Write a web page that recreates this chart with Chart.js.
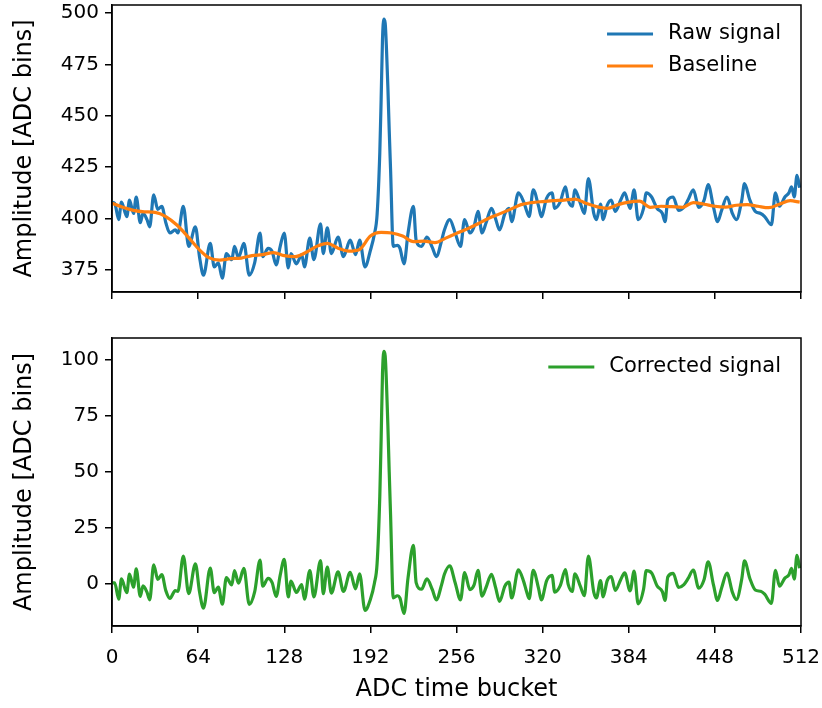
<!DOCTYPE html>
<html>
<head>
<meta charset="utf-8">
<script src="https://cdn.jsdelivr.net/npm/chart.js@4.4.0/dist/chart.umd.min.js"></script>
<style>
  html, body { margin: 0; padding: 0; background: #fff; }
  #wrap { position: relative; width: 822px; height: 708px; }
  canvas { position: absolute; left: 0; }
  #topChart { top: 0; }
  #bottomChart { top: 310px; }
</style>
</head>
<body>
<div id="wrap">
  <canvas id="topChart" width="822" height="310"></canvas>
  <canvas id="bottomChart" width="822" height="398"></canvas>
</div>
<script>
// buckets del raw / corrected
const rawBuckets = [
  0, 2, 5, 7, 11, 13, 16, 18, 21, 23,
  26, 28, 31, 34, 37, 40, 43, 47, 49, 53,
  57, 62, 65, 68, 73, 76, 79, 82, 85, 89,
  91, 94, 98, 102, 106, 110, 112, 116, 119, 122,
  125, 128, 131, 133, 137, 141, 143, 147, 150, 155,
  157, 160, 163, 168, 172, 177, 181, 184, 188, 192,
  195, 197, 199, 200, 201, 202, 203, 204, 205, 206,
  207, 209, 212, 214,
  217, 220, 224, 226, 230, 234, 238, 241, 245, 247,
  251, 255, 259, 262, 266, 269, 272, 275, 278, 282,
  285, 288, 292, 295, 297, 302, 306, 308, 310, 313,
  317, 319, 323, 327, 329, 333, 337, 339, 342, 344,
  348, 351, 354, 358, 360, 363, 365, 368, 371, 374,
  378, 381, 385, 388, 391, 395, 397, 401, 405, 409,
  411, 413, 417, 421, 425, 428, 432, 436, 440, 443,
  447, 450, 453, 457, 461, 464, 468, 470, 474, 478,
  482, 485, 490, 493, 496, 500, 503, 505, 507, 509,
  511
];
const rawValues = [
  408, 407.5, 399.5, 408, 401, 409, 402.5, 410.5, 398, 402.5,
  399.5, 396, 411.5, 404.5, 406, 398, 393, 394.5, 393, 406,
  386.5, 396, 381.5, 372.5, 388, 376.5, 378.5, 371, 383, 380,
  386.5, 381, 388, 372.5, 378.5, 393, 381.5, 385.5, 384, 377.5,
  386.5, 393, 376, 383, 378, 382.5, 376.5, 390.5, 380, 397.5,
  383, 395.5, 383, 391, 381.5, 389.5, 382.5, 389.5, 376.5, 384.5,
  392.5, 402, 432, 458, 487, 497, 495, 482, 464, 443,
  424, 386.5, 387, 385.5,
  378, 393, 406, 389.5, 386.5, 391, 386, 381.5, 389.5, 394.5,
  399.5, 393, 386.5, 399.5, 393, 396, 403.5, 393, 398, 405,
  400, 394.5, 402.5, 405, 398.5, 412.5, 408, 404, 401, 414,
  406, 401, 410, 412.5, 405, 408, 415.5, 409, 406, 414,
  407.5, 402.5, 419.5, 402.5, 399.5, 407, 399.5, 406.5, 409, 403.5,
  409, 412.5, 405, 414, 399.5, 405, 412.5, 410.5, 405, 402.5,
  398.5, 409, 410.5, 404, 405.5, 409, 414, 405.5, 409, 416.5,
  405.5, 398.5, 404, 410.5, 402.5, 399.5, 409, 417, 409, 403.5,
  402.5, 401, 397, 412.5, 406, 410.5, 412.5, 415.5, 410.5, 421,
  415
];
const correctedValues = [
  0.5, 0.5, -6.8, 2.2, -3.9, 4.4, -1.5, 6.7, -5.6, -0.9,
  -3.7, -7.1, 8.5, 2, 4.2, -3, -6.5, -3, -3.3, 12.4,
  -4.3, 9, -3.4, -10.8, 7.1, -3.9, -1.4, -9, 2.8, -0.5,
  5.9, 0.3, 6.9, -9.2, -3.6, 10.6, -1, 2.5, 0.6, -5.6,
  3.9, 11, -5.8, 1.3, -3.8, -0.3, -6.8, 5.9, -5.8, 10.4,
  -4.4, 7.5, -4.1, 5.4, -3.4, 5.2, -2.2, 4.5, -11.8, -7,
  0.3, 9.2, 39.1, 64.7, 93.7, 103.8, 101.8, 88.8, 70.9, 50,
  31, -6.3, -5.3, -6.4,
  -13.2, 2.8, 17.2, 0.6, -2.4, 2.2, -2.5, -7.1, -0.2, 4.3,
  8.1, 0.5, -7.1, 5, -2.6, -0.6, 6, -5.5, -1.5, 4.3,
  -1.5, -7.8, -0.9, 0.8, -6.3, 6.3, 0.9, -3.3, -6.6, 6.1,
  -2.1, -7.2, 1.5, 3.8, -3.7, -0.9, 6.4, -0.2, -3.4, 4.5,
  -1, -5.3, 12.4, -3.7, -6.3, 1.5, -5.8, 1.5, 3.3, -2.9,
  1.9, 4.9, -3.1, 5.7, -8.9, -2.4, 5.9, 4.9, -0.8, -3.5,
  -7.4, 3.1, 4.7, -1.6, -0.3, 2.3, 6.2, -1.9, 2, 9.9,
  -0.6, -7.4, -1.8, 4.8, -3.7, -7, 2.3, 10.3, 2.4, -2.7,
  -3.3, -4.6, -8.7, 6.1, -1, 2.6, 4, 6.9, 2.1, 12.8,
  7
];
const baselineBuckets = [
  0, 8, 16, 24, 32, 40, 48, 56, 64, 72,
  80, 88, 96, 104, 112, 120, 128, 136, 144, 152,
  160, 168, 176, 184, 192, 200, 208, 216, 224, 232,
  240, 248, 256, 264, 272, 280, 288, 296, 304, 312,
  320, 328, 336, 344, 352, 360, 368, 376, 384, 392,
  400, 408, 416, 424, 432, 440, 448, 456, 464, 472,
  480, 488, 496, 504, 511
];
const baselineValues = [
  407.5, 405.5, 404, 403.3, 403, 401, 397, 391.5, 385.5, 381,
  379.8, 380.5, 380.8, 382, 382.5, 383.5, 382, 381.5, 383.5, 386.5,
  388, 385.6, 384.2, 385, 391.5, 393.3, 393, 391.5, 388.8, 389,
  388.3, 390.5, 392.8, 395, 397.5, 400.2, 402.3, 404.5, 406.8, 407.8,
  408.3, 408.7, 409, 409.5, 407.5, 405.8, 405, 406.8, 408, 408.5,
  405.5, 406, 405.8, 405.5, 407.8, 407, 406, 405.6, 406.5, 406.8,
  406, 405.3, 407, 408.7, 408
];

const xTicks = [0, 64, 128, 192, 256, 320, 384, 448, 512];
const topTicks = [375, 400, 425, 450, 475, 500];
const bottomTicks = [0, 25, 50, 75, 100];
const topRange = [364.3, 503.9];
const bottomRange = [-18.8, 109.8];

const FONT = '"DejaVu Sans", sans-serif';
const TICK_FS = 20;
const LEGEND_FS = 21;
const TITLE_FS = 24;
Chart.defaults.font.family = FONT;
Chart.defaults.font.size = TICK_FS;
Chart.defaults.color = '#000';

const toPoints = (xs, ys) => xs.map((x, i) => ({ x: x, y: ys[i] }));

// marco negro completo alrededor del area
const framePlugin = {
  id: 'frame',
  afterDraw(chart) {
    const { ctx, chartArea: a } = chart;
    ctx.save();
    ctx.strokeStyle = '#000';
    ctx.lineWidth = 1.5;
    ctx.strokeRect(a.left, a.top, a.right - a.left, a.bottom - a.top);
    ctx.restore();
  }
};

// leyenda dentro del grafico, arriba a la derecha
const legendPlugin = {
  id: 'insideLegend',
  afterDraw(chart) {
    const { ctx, chartArea: a } = chart;
    const sets = chart.data.datasets;
    ctx.save();
    ctx.font = LEGEND_FS + 'px ' + FONT;
    const textW = Math.max(...sets.map(d => ctx.measureText(d.label).width));
    const textX = a.right - 20 - textW;
    sets.forEach((d, i) => {
      const y = a.top + 29 + i * 32;
      ctx.strokeStyle = d.borderColor;
      ctx.lineWidth = 3.2;
      ctx.beginPath();
      ctx.moveTo(textX - 61, y);
      ctx.lineTo(textX - 15, y);
      ctx.stroke();
      ctx.fillStyle = '#000';
      ctx.textAlign = 'left';
      ctx.textBaseline = 'middle';
      ctx.fillText(d.label, textX, y);
    });
    ctx.restore();
  }
};

function makeChart(id, datasets, yTicks, yRange, showX, padTop, xHeight) {
  const tickGrid = { drawOnChartArea: false, drawTicks: true, tickLength: 7, color: '#000', lineWidth: 1.5 };
  const border = { display: true, color: '#000', width: 1.5 };
  return new Chart(document.getElementById(id), {
    type: 'line',
    data: { datasets: datasets },
    options: {
      responsive: false,
      animation: false,
      devicePixelRatio: 1,
      layout: { padding: { top: padTop, right: 21, left: 0, bottom: 0 } },
      plugins: { legend: { display: false }, tooltip: { enabled: false } },
      elements: {
        point: { radius: 0 },
        line: { borderWidth: 3.2, cubicInterpolationMode: 'monotone' }
      },
      scales: {
        x: {
          type: 'linear',
          min: 0,
          max: 512,
          afterBuildTicks: s => { s.ticks = xTicks.map(v => ({ value: v })); },
          afterFit: s => { s.height = xHeight; s.paddingLeft = 0; s.paddingRight = 0; },
          grid: tickGrid,
          border: border,
          ticks: { display: showX, autoSkip: false, maxRotation: 0, padding: 13 },
          title: {
            display: showX, text: 'ADC time bucket',
            font: { size: TITLE_FS }, padding: { top: 0, bottom: 3.6 }
          }
        },
        y: {
          type: 'linear',
          min: yRange[0],
          max: yRange[1],
          afterBuildTicks: s => { s.ticks = yTicks.map(v => ({ value: v })); },
          afterFit: s => { s.width = 112; s.paddingTop = 0; s.paddingBottom = 0; },
          grid: tickGrid,
          border: border,
          ticks: { padding: 6 },
          title: {
            display: true, text: 'Amplitude [ADC bins]',
            font: { size: TITLE_FS }, padding: { top: 10.6, bottom: 0 }
          }
        }
      }
    },
    plugins: [framePlugin, legendPlugin]
  });
}

// baseline encima del raw (order menor = se dibuja arriba)
makeChart('topChart', [
  { label: 'Raw signal', data: toPoints(rawBuckets, rawValues), borderColor: '#1f77b4', backgroundColor: '#1f77b4', order: 2 },
  { label: 'Baseline', data: toPoints(baselineBuckets, baselineValues), borderColor: '#ff7f0e', backgroundColor: '#ff7f0e', order: 1 }
], topTicks, topRange, false, 5, 18);

makeChart('bottomChart', [
  { label: 'Corrected signal', data: toPoints(rawBuckets, correctedValues), borderColor: '#2ca02c', backgroundColor: '#2ca02c' }
], bottomTicks, bottomRange, true, 28, 82);
</script>
</body>
</html>
